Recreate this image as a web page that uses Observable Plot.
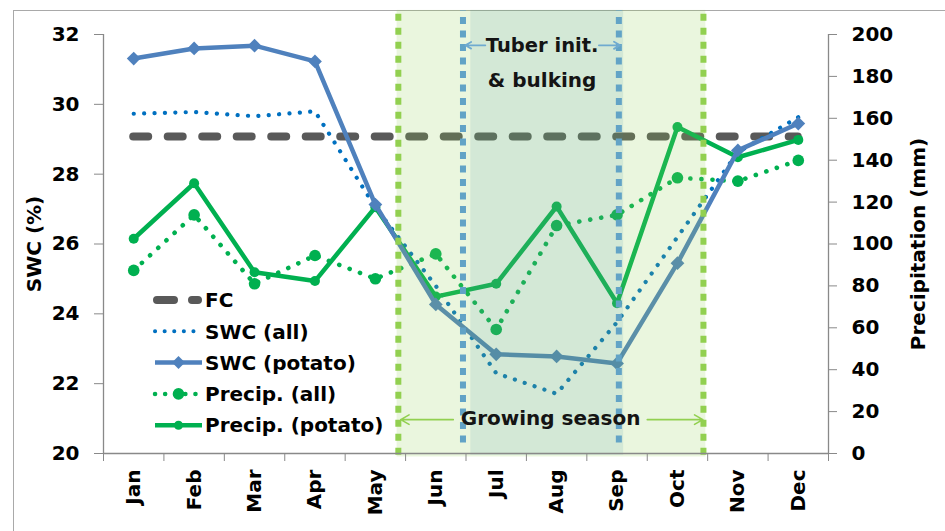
<!DOCTYPE html>
<html><head><meta charset="utf-8">
<script src="https://cdn.jsdelivr.net/npm/d3@7"></script>
<script src="https://cdn.jsdelivr.net/npm/@observablehq/plot@0.6"></script>
<style>
body{margin:0;background:#fff;}
#wrap{position:relative;width:945px;height:531px;overflow:hidden;font-family:"DejaVu Sans",sans-serif;font-weight:bold;}
#frame{position:absolute;left:13px;top:10px;width:1000px;height:600px;border-top:1.5px solid #a9a9a9;border-left:1.5px solid #a9a9a9;}
#wrap svg{position:absolute;left:0;top:0;}
</style></head><body><div id="wrap"><div id="frame"></div></div>
<script>
// ---- data ----
const months = ["Jan","Feb","Mar","Apr","May","Jun","Jul","Aug","Sep","Oct","Nov","Dec"];
const swcAll = [29.73,29.78,29.66,29.80,27.05,24.80,22.30,21.71,23.76,26.20,28.63,29.63];
const swcPotato = [31.31,31.60,31.68,31.23,27.13,24.27,22.84,22.78,22.58,25.45,28.68,29.45];
const precipAll = [87.4,113.9,81.0,94.5,83.4,95.3,59.2,108.8,113.9,131.6,130.0,139.9];
const precipPotato = [102.5,129.0,86.5,82.3,117.6,74.9,81.0,117.9,71.7,155.8,141.4,149.7];
const fc = 29.08;
const swcTicks = [20,22,24,26,28,30,32];
const precipTicks = [0,20,40,60,80,100,120,140,160,180,200];
// phases in month units (0 = start of Jan, 12 = end of Dec)
const growingSeason = [{start:4.86, end:9.97, bottom:19.9, top:32.69}];
const growingEdges = [4.88, 9.93];
const tuberPhase = [{start:6.08, end:8.61, bottom:19.95, top:32.69}];
const tuberEdges = [5.95, 8.53];
const labels = [
  {text:"Tuber init.", x:7.26, y:31.68, size:19.5},
  {text:"& bulking", x:7.26, y:30.68, size:20},
  {text:"Growing season", x:7.40, y:21.0, size:20}
];
const tuberArrows = [{x1:6.32, x2:5.99, y:31.69},{x1:8.2, x2:8.55, y:31.69}];
const growArrows = [{x1:5.79, x2:4.92, y:20.97},{x1:9.0, x2:9.92, y:20.97}];
const legendItems = ["FC","SWC (all)","SWC (potato)","Precip. (all)","Precip. (potato)"];

// ---- build ----
const k = 12/200; // precipitation -> SWC axis mapping
const rows = months.map((m,i)=>({m, x:i+0.5, swcAll:swcAll[i], swcPotato:swcPotato[i],
  pAll:20+precipAll[i]*k, pPot:20+precipPotato[i]*k}));
const gray = "#898989";
const chart = Plot.plot({
  width:945, height:531, marginLeft:103, marginRight:117, marginTop:34, marginBottom:78,
  style:{fontFamily:"DejaVu Sans", fontWeight:"bold", fontSize:"20px", color:"#000", background:"transparent", overflow:"visible"},
  x:{type:"linear", domain:[0,12]},
  y:{domain:[20,32]},
  marks:[
    Plot.ruleY([fc], {x1:rows[0].x, x2:rows[11].x, stroke:"#595959", strokeWidth:8, strokeDasharray:"15,19.5", strokeLinecap:"round"}),
    Plot.line(rows, {x:"x", y:"swcAll", stroke:"#0070c0", strokeWidth:4.2, strokeDasharray:"0.1,10.3", strokeLinecap:"round"}),
    Plot.line(rows, {x:"x", y:"pAll", stroke:"#00b050", strokeWidth:4.6, strokeDasharray:"0.1,11", strokeLinecap:"round"}),
    Plot.dot(rows, {x:"x", y:"pAll", r:5.8, fill:"#00b050"}),
    Plot.line(rows, {x:"x", y:"pPot", stroke:"#00b050", strokeWidth:4.5}),
    Plot.dot(rows, {x:"x", y:"pPot", r:5, fill:"#00b050"}),
    Plot.line(rows, {x:"x", y:"swcPotato", stroke:"#4f81bd", strokeWidth:4.5}),
    Plot.dot(rows, {x:"x", y:"swcPotato", symbol:"square", rotate:45, r:5.5, fill:"#4f81bd"}),
    Plot.rect(growingSeason, {x1:"start", x2:"end", y1:"bottom", y2:"top", fill:"#92d050", fillOpacity:0.19}),
    Plot.rect(tuberPhase, {x1:"start", x2:"end", y1:"bottom", y2:"top", fill:"#31859c", fillOpacity:0.12}),
    Plot.ruleX(growingEdges, {y1:19.95, y2:32.69, stroke:"#92d050", strokeWidth:6, strokeDasharray:"7,7"}),
    Plot.ruleX(tuberEdges, {y1:20.3, y2:32.69, stroke:"#62a3c6", strokeWidth:6, strokeDasharray:"7,6.5"}),
    Plot.arrow(tuberArrows, {x1:"x1", x2:"x2", y1:"y", y2:"y", stroke:"#6faad0", strokeWidth:1.8, headLength:10}),
    Plot.arrow(growArrows, {x1:"x1", x2:"x2", y1:"y", y2:"y", stroke:"#92d050", strokeWidth:1.6, headLength:9}),
    Plot.text(labels, {x:"x", y:"y", text:"text", fontSize:"size", fill:"#141414", lineAnchor:"middle"}),
    // axes
    Plot.ruleX([0,12], {y1:20, y2:32, stroke:gray, strokeWidth:1.3}),
    Plot.ruleY([20], {x1:0, x2:12, stroke:gray, strokeWidth:1.3}),
    Plot.axisY(swcTicks, {anchor:"left", tickSize:9, tickPadding:15, stroke:gray, label:"SWC (%)", labelAnchor:"center", labelOffset:77, labelArrow:"none"}),
    Plot.axisY(precipTicks.map(p=>20+p*k), {anchor:"right", tickSize:8, tickPadding:15, stroke:gray,
      tickFormat:v=>String(Math.round((v-20)/k)), label:"Precipitation (mm)", labelAnchor:"center", labelOffset:96, labelArrow:"none"}),
    Plot.axisX(d3.range(13), {tickSize:8, stroke:gray, tickFormat:()=>"", label:null}),
    Plot.axisX(rows.map(r=>r.x), {tickSize:0, tickPadding:16, tickRotate:-90, tickFormat:v=>months[Math.floor(v)], label:null})
  ]
});
document.getElementById("wrap").appendChild(chart);

// ---- legend (overlay) ----
const lg = d3.select("#wrap").append("svg").attr("width",945).attr("height",531)
  .style("font-family","DejaVu Sans").style("font-weight","bold").style("font-size","20px");
const styles = [
  {stroke:"#595959", w:8, dash:"17,18", cap:"round", marker:null},
  {stroke:"#0070c0", w:4, dash:"0.1,9.5", cap:"round", marker:null},
  {stroke:"#4f81bd", w:4.5, dash:null, cap:"butt", marker:"diamond"},
  {stroke:"#00b050", w:4.5, dash:"0.1,10", cap:"round", marker:"bigdot"},
  {stroke:"#00b050", w:4.5, dash:null, cap:"butt", marker:"dot"}
];
legendItems.forEach((name,i)=>{
  const s = styles[i];
  const cy = 300 + i*31.3;
  const x0 = i===0 ? 157 : 155, x1 = i===0 ? 198 : 202;
  const ln = lg.append("line").attr("x1",x0).attr("x2",x1).attr("y1",cy).attr("y2",cy)
    .attr("stroke",s.stroke).attr("stroke-width",s.w).attr("stroke-linecap",s.cap);
  if (s.dash) ln.attr("stroke-dasharray",s.dash);
  if (s.marker==="diamond") lg.append("rect").attr("x",-4.6).attr("y",-4.6).attr("width",9.2).attr("height",9.2)
    .attr("fill",s.stroke).attr("transform",`translate(178.5,${cy}) rotate(45)`);
  if (s.marker==="bigdot") lg.append("circle").attr("cx",178.5).attr("cy",cy).attr("r",5.8).attr("fill",s.stroke);
  if (s.marker==="dot") lg.append("circle").attr("cx",178.5).attr("cy",cy).attr("r",4.5).attr("fill",s.stroke);
  lg.append("text").attr("x",205).attr("y",cy).attr("dy","0.36em").attr("fill","#000").text(name);
});
</script>
</body></html>
